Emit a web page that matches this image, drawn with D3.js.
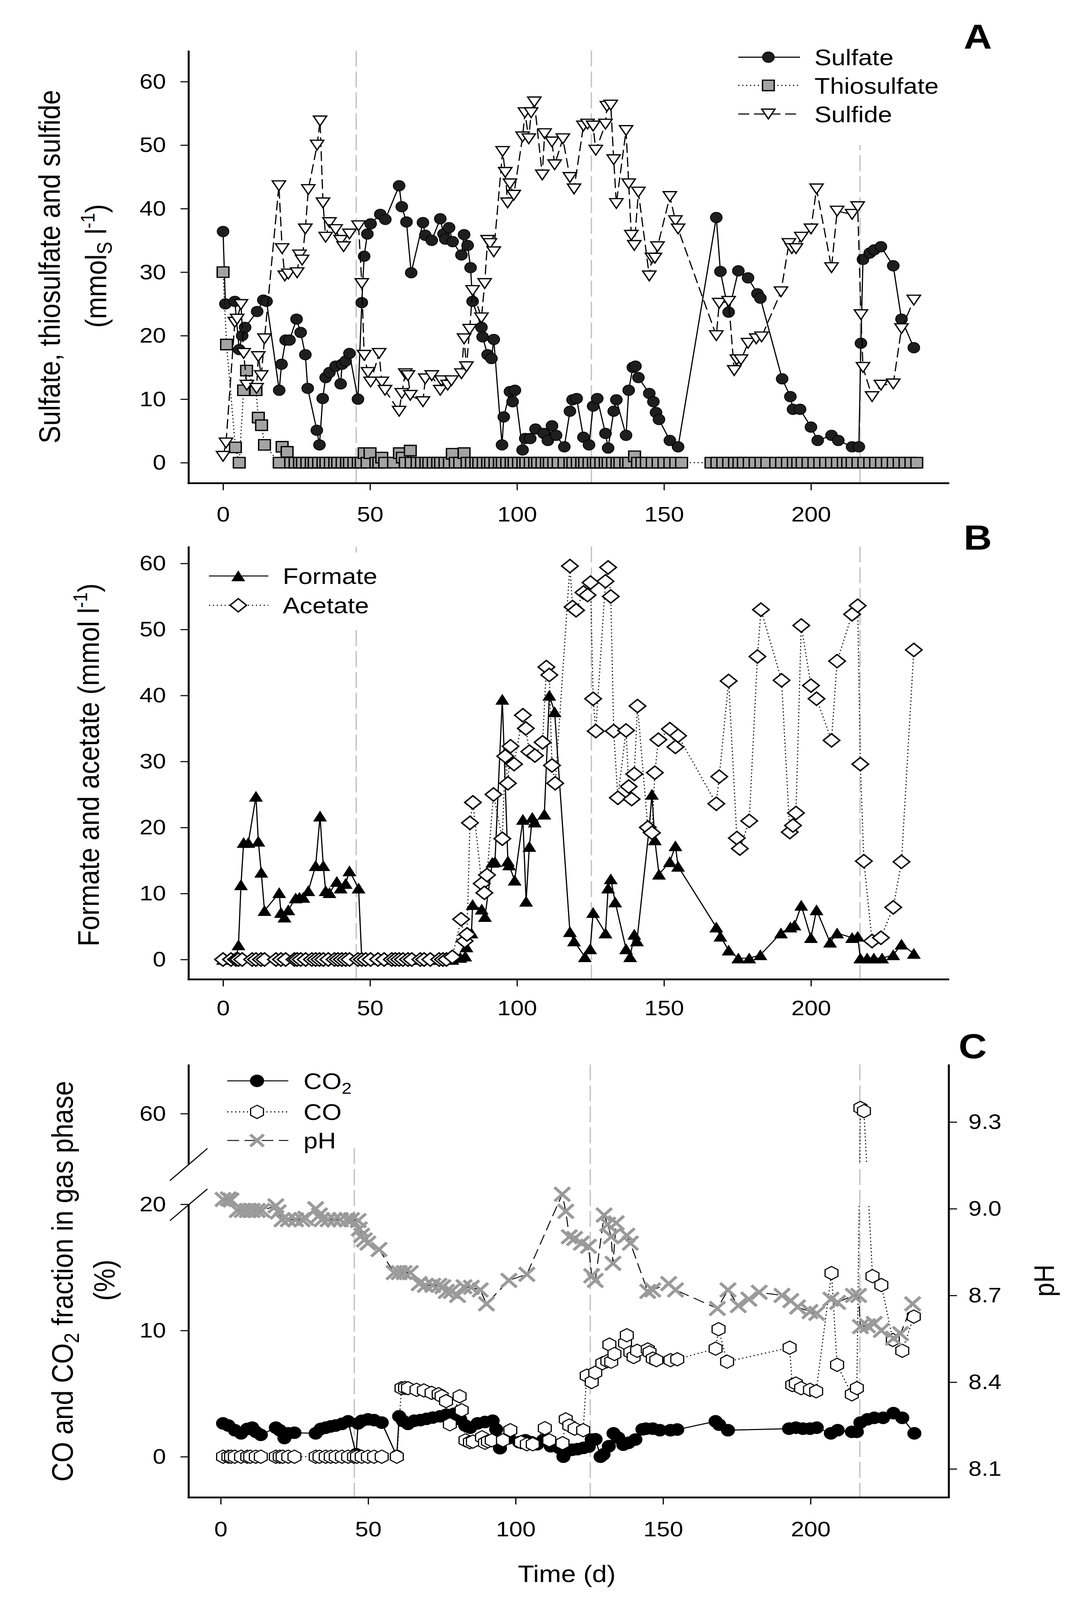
<!DOCTYPE html>
<html><head><meta charset="utf-8">
<script src="https://cdn.jsdelivr.net/npm/d3@7"></script>
<style>html,body{margin:0;padding:0;background:#fff;overflow:hidden}svg{display:block}svg text{font-family:"Liberation Sans",Arial,sans-serif}</style>
</head><body>
<script>
// ---------------- DATA ----------------
const dayTicks = [0, 50, 100, 150, 200];
const concTicks = [0, 10, 20, 30, 40, 50, 60];
const gasLowTicks = [0, 10, 20];
const gasHighTicks = [60];
const phTicks = [8.1, 8.4, 8.7, 9.0, 9.3];
const stageDays = [45.3, 125.3, 216.7];

// Panel A (day, mmol_S/l)
const sulfate = [[0,36.4],[0.8,25.0],[4,25.4],[5.5,17.8],[6.5,20.0],[7.5,21.3],[11.6,23.8],[13.7,25.6],[14.8,25.4],[19.1,11.4],[19.9,15.5],[21.3,19.3],[22.6,19.3],[25,22.6],[26.4,20.5],[28,17.0],[28.8,11.7],[31.9,5.1],[32.8,2.8],[33.9,10.1],[34.9,13.4],[36.2,14.2],[38.3,15.2],[40,12.4],[40.5,15.5],[41.7,16.0],[43,17.2],[45.9,10.0],[47.2,25.2],[48,32.5],[49.1,36.0],[50.2,37.6],[53.5,39.1],[55.2,38.3],[59.9,43.6],[60.8,40.3],[62.4,37.9],[64,29.9],[68,37.8],[68.8,35.8],[71,35.0],[73.9,38.4],[75,36.0],[75.6,35.2],[76.9,37.0],[78.1,34.8],[81.1,32.7],[82,35.9],[83.2,34.2],[84.2,30.7],[84.9,25.4],[87.9,21.3],[88.3,19.8],[90,17.0],[91.3,16.4],[92.1,19.4],[94.9,2.8],[95.5,7.2],[97.6,11.2],[98.5,9.6],[99.3,11.4],[101.9,2.0],[102.8,3.8],[104.5,3.8],[106.3,5.3],[109.1,4.6],[110.5,3.5],[111.9,5.8],[113.3,4.3],[116.1,2.5],[118,8.1],[118.9,9.9],[120.3,10.1],[122.6,4.0],[124.5,2.8],[125.9,8.9],[127.3,10.1],[130.1,4.6],[131,2.3],[132.9,8.1],[133.8,9.9],[137.1,4.3],[138,11.4],[139.4,15.0],[140.3,15.2],[141.3,13.4],[145,10.9],[146.4,9.6],[147.3,7.9],[148.3,6.8],[152,3.5],[154.8,2.5],[167.8,38.6],[169.2,30.1],[172,23.7],[175.3,30.2],[178.6,29.1],[181.8,26.6],[182.8,25.9],[190.2,13.2],[193,10.4],[193.9,8.4],[196.3,8.4],[200,5.6],[202.3,3.5],[207,4.3],[209.3,3.5],[214,2.5],[216.3,2.5],[217,18.8],[217.7,32.0],[220,33.0],[221.5,33.5],[223.8,34.0],[228,31.0],[230.8,22.6],[235,18.1]];
const thiosulfate = [[0,30.0],[1.2,18.6],[4.2,2.4],[5.5,0],[7,11.4],[8,14.5],[11.2,11.4],[12,7.1],[13.1,5.9],[14.1,2.8],[19.1,0],[20.1,2.5],[21.8,1.7],[23,0],[24.5,0],[26,0],[27,0],[28.5,0],[30,0],[31,0],[32.5,0],[34,0],[35,0],[36.5,0],[38,0],[39,0],[40.5,0],[42,0],[43,0],[44.5,0],[46,0],[47,0],[48,1.5],[49,0],[50,1.5],[52,0],[53,0],[54,0.8],[55,0],[58,0],[60,1.5],[61,0.8],[62,0],[63.7,1.9],[64,0],[66,0],[67.5,0],[69,0],[70,0],[71.5,0],[73,0],[74,0],[75.5,0],[77,0],[78,1.4],[79,0],[80.5,0],[82,1.5],[83,0],[84.5,0],[86,0],[87,0],[88.5,0],[90,0],[91,0],[92.5,0],[94,0],[95,0],[96.5,0],[98,0],[99,0],[100.5,0],[102,0],[103,0],[104.5,0],[106,0],[107,0],[108.5,0],[110,0],[111,0],[112.5,0],[114,0],[116,0],[118,0],[119,0],[120.5,0],[122,0],[123,0],[124.5,0],[126,0],[127,0],[128.5,0],[130,0],[131,0],[132.5,0],[134,0],[135,0],[137,0],[138,0],[140,1.0],[141,0],[142.5,0],[144,0],[146,0],[148,0],[150,0],[152,0],[154,0],[156,0],[166,0],[168,0],[170,0],[172,0],[174,0],[175.5,0],[177,0],[179,0],[181,0],[183,0],[185,0],[188,0],[190,0],[192,0],[194,0],[195.5,0],[197,0],[199,0],[201,0],[203,0],[205,0],[207,0],[209,0],[211,0],[212.5,0],[214,0],[216,0],[218,0],[220,0],[222,0],[224,0],[226,0],[228,0],[230,0],[232,0],[234,0],[236,0]];
const sulfide = [[0,1.0],[1,3.1],[4,22.1],[4.8,22.6],[6.1,24.9],[7,17.2],[8.1,12.2],[11.4,11.7],[12,16.7],[13,13.7],[14.1,19.5],[19,43.6],[20.1,33.7],[21,29.4],[22.2,29.7],[25.2,29.9],[26,32.7],[26.9,31.9],[28,36.8],[29,43.0],[32,50.0],[33,53.8],[34,40.9],[34.9,35.5],[36.2,37.8],[38.3,36.7],[40,35.0],[41,34.0],[43,36.0],[46.1,37.3],[47.2,28.2],[48,16.9],[49.3,14.2],[50.2,12.7],[53.1,17.2],[54,12.7],[55.1,11.4],[59.9,8.1],[60.8,10.9],[62,14.0],[62.9,13.7],[63.7,10.6],[68,9.6],[68.8,13.2],[71,13.7],[73.9,11.4],[74.3,12.9],[76.4,12.2],[77.7,12.9],[81.1,14.0],[82,19.5],[82.8,15.1],[83.9,21.0],[84.9,27.1],[87.9,22.8],[89,28.2],[90,35.0],[90.8,34.5],[92.1,33.2],[95.1,49.0],[96,45.7],[96.8,40.9],[97.6,43.9],[98.9,42.1],[101.9,51.3],[102.7,55.1],[104,51.0],[104.8,55.1],[105.9,56.8],[108.6,45.3],[109.4,51.8],[111.9,50.5],[112.8,46.9],[115.6,51.0],[118,44.9],[119.4,43.1],[122.6,53.0],[124,53.3],[125.9,53.0],[126.8,49.2],[130.1,53.3],[130.6,56.1],[131.9,56.3],[132.9,47.7],[133.8,40.8],[137.1,52.3],[138,43.9],[138.9,35.8],[139.9,34.2],[141.3,42.6],[145,29.4],[145.9,32.2],[146.9,32.2],[147.8,34.0],[152,41.9],[153.9,38.1],[154.8,36.8],[167.8,20.0],[168.8,25.1],[172,25.4],[173.9,14.5],[174.8,16.2],[176.2,16.2],[178.6,18.8],[181.4,19.5],[183.2,19.8],[189.8,26.9],[192.5,34.5],[193.5,33.7],[194.9,33.7],[196.7,35.5],[200,36.8],[201.9,43.1],[207,30.7],[208.9,39.6],[214,39.1],[215.9,40.3],[217,23.3],[217.7,15.0],[220.8,10.4],[223.8,12.2],[228,12.4],[230.8,21.1],[235,25.6]];

// Panel B (day, mmol/l)
const formate = [[0,0],[2.7,0],[4.4,0],[5.25,2.2],[6.1,11.3],[7,17.7],[8.6,17.7],[11.2,24.7],[12,17.9],[13,13.2],[14.1,7.4],[19.1,10.1],[19.7,7.1],[20.9,6.4],[22.2,7.5],[24.7,9.3],[26,9.4],[27.3,9.4],[29,10.4],[31.5,14.2],[33,21.7],[34.1,14.2],[34.9,10.4],[36.2,10.1],[38.7,11.8],[40,10.8],[41.7,11.5],[43,13.4],[46.1,10.8],[47.2,0],[48.5,0],[50.2,0],[52.7,0],[54.8,0],[57.4,0],[58.6,0],[59.9,0],[61.2,0],[62.9,0],[64.2,0],[67.1,0],[68.4,0],[70.5,0],[73.5,0],[74.8,0],[76,0],[78,0],[80.7,0.3],[82.4,0.5],[82.8,1.9],[84.5,4.0],[84.9,8.3],[88,7.6],[89.1,6.5],[91.6,14.7],[92.5,14.8],[95,39.4],[96.9,14.9],[97.3,14.3],[99.2,12.0],[102,21.2],[103.1,8.8],[104.2,17.1],[105.2,21.5],[106,20.8],[109.3,22.0],[111,40.0],[112.8,37.5],[118,4.2],[119.4,2.8],[123.1,0.4],[124.9,1.6],[125.9,7.1],[130.1,4.0],[131,10.8],[131.9,12.2],[133.4,8.7],[137.1,1.6],[138.5,0.4],[139.9,3.8],[140.8,2.8],[145,20.0],[145.9,25.0],[146.9,18.1],[148.3,12.9],[152,14.8],[153.9,17.2],[154.8,14.1],[167.8,4.9],[169.2,3.5],[172,1.4],[175.3,0.2],[179,0.2],[182.8,0.7],[189.8,4.0],[193,4.9],[194.4,5.2],[196.7,8.2],[200,3.3],[201.9,7.5],[206.5,2.6],[208.9,4.0],[214,3.3],[215.9,3.5],[216.8,0.2],[219.1,0.2],[221.4,0.2],[224.2,0.2],[228,0.7],[230.8,2.3],[235,0.9]];
const acetate = [[0,0],[2.7,0],[4.4,0],[5.2,0],[6.5,0],[9.9,0],[11.2,0],[12.9,0],[14.1,0],[18,0],[19.7,0],[21.3,0],[24.3,0],[25.2,0],[26.4,0],[28.1,0],[30.2,0],[31.5,0],[32.8,0],[34.1,0],[35.8,0],[37.9,0],[39.1,0],[40.4,0],[41.7,0],[43,0],[45.9,0],[47.2,0],[48.5,0],[50.2,0],[52.7,0],[54.8,0],[57.4,0],[58.6,0],[59.9,0],[61.2,0],[62.9,0],[64.2,0],[67.1,0],[68.4,0],[70.5,0],[73.5,0],[74.8,0],[76,0],[78,0.4],[81,6.1],[82.2,2.8],[83,3.8],[84,20.7],[85,23.8],[88,11.5],[88.9,10.1],[89.8,12.8],[92,25.0],[95,18.3],[96,30.8],[96.9,26.7],[97.8,32.3],[99,29.6],[102,37.0],[103,35.0],[104.2,31.5],[106.1,30.9],[108.7,32.9],[110,44.3],[111,43.1],[111.9,29.4],[113,26.7],[118,59.6],[118.9,53.4],[120.1,52.9],[122.6,55.6],[124,55.2],[125,57.1],[125.9,39.5],[126.8,34.6],[130.1,57.3],[131,59.4],[131.9,55.0],[132.9,34.6],[134.3,24.5],[137.1,34.7],[138,26.2],[139,24.3],[139.9,28.1],[141,38.4],[144.5,20.0],[145.9,19.2],[146.9,28.3],[148.1,33.3],[152,34.9],[153.9,32.2],[154.8,33.9],[167.8,23.6],[168.8,27.7],[172,42.2],[174.8,18.4],[175.8,16.8],[179,21.0],[181.8,45.9],[183,53.0],[190,42.3],[192.8,19.3],[193.9,20.3],[194.9,22.2],[196.7,50.6],[200,41.5],[201.9,39.5],[207,33.2],[208.9,45.2],[214,52.3],[215.9,53.6],[216.8,29.6],[218,14.9],[220.8,2.8],[223.8,3.3],[228,7.9],[230.8,14.8],[235,46.9]];

// Panel C (day, % gas phase) and (day, pH)
const co2 = [[0.8,2.64],[2.6,2.47],[4.8,2.1],[6.9,1.85],[9,2.2],[10.7,2.3],[11.9,1.97],[13.6,1.73],[18.7,2.3],[20,2.1],[21.6,1.48],[22.9,1.85],[25,1.9],[32.2,1.85],[33.9,2.2],[35.6,2.3],[37.3,2.4],[39,2.47],[41.1,2.6],[43.2,2.8],[45.9,0.2],[46.6,2.64],[47.8,2.84],[49.9,2.96],[52,2.9],[54.6,2.7],[59.7,0.05],[60.5,3.2],[61.8,2.84],[63.5,2.6],[65.6,2.85],[67.7,2.9],[69.8,3.0],[71.9,3.1],[74.4,3.2],[76.5,3.33],[79.1,3.4],[81.2,2.96],[82.9,2.47],[84.6,2.3],[87.1,2.64],[89.6,2.75],[92.2,2.85],[93.4,2.17],[94.7,0.67],[95.7,1.3],[97.7,1.46],[101.2,1.15],[103.3,1.3],[105.3,1.15],[107.3,0.99],[109.3,1.3],[111.9,0.83],[114.9,0.67],[116.2,0.0],[117.5,0.45],[119.2,0.55],[121,0.6],[123,0.7],[124.8,0.8],[125.8,1.36],[127.1,1.38],[128.8,0.0],[129.8,0.19],[131.6,0.83],[133.2,1.85],[134.8,1.5],[136.5,0.95],[138.3,1.1],[140.6,1.36],[143,2.17],[144.2,2.22],[146.5,2.22],[148.9,2.1],[152.5,2.1],[154.8,2.15],[167.8,2.8],[169,2.54],[172,2.1],[192.7,2.22],[195,2.3],[197.4,2.22],[199.8,2.22],[202.1,2.3],[206.9,1.85],[209.2,2.1],[214,1.97],[215.7,1.97],[216.9,2.7],[219.3,2.96],[221.6,3.08],[224.6,3.08],[228.1,3.45],[231.1,3.08],[235.2,1.85]];
const co = [[0.8,0],[2.6,0],[3.5,0],[4.8,0],[6.9,0],[9,0],[10,0],[11.9,0],[13.6,0],[18.7,0],[20,0],[21,0],[22.9,0],[25,0],[32.2,0],[33.5,0],[35.6,0],[37.3,0],[39,0],[41.1,0],[43.2,0],[45.2,0],[46.2,0],[47.8,0],[49.9,0],[52,0],[54.6,0],[59.7,0],[61.3,5.43],[62.5,5.45],[63.5,5.43],[66.4,5.3],[68.9,5.25],[71.5,5.06],[73.9,4.95],[74.9,4.79],[76.4,4.4],[77.7,2.57],[81,4.79],[81.7,3.68],[83,1.3],[84.5,1.15],[85.5,1.2],[88.6,1.54],[89.6,1.1],[90.6,1.22],[91.9,1.3],[95.7,1.3],[98.2,2.1],[101.8,1.15],[103.8,0.99],[105.8,0.99],[109.9,2.26],[111.4,1.3],[115.9,1.07],[117,2.96],[118.2,2.47],[120,2.22],[122.9,2.1],[124.1,6.42],[125.8,5.92],[127,6.66],[129.4,7.4],[131.1,7.57],[131.8,8.88],[132.4,7.53],[133.5,8.14],[137.1,9.0],[137.7,9.62],[138.9,8.27],[140,7.9],[141.2,8.39],[144.8,8.5],[145.4,8.27],[146.5,7.77],[147.7,7.65],[152.5,7.65],[154.8,7.72],[167.8,8.56],[168.8,10.1],[171.7,7.53],[192.9,8.64],[193.8,5.68],[195,5.8],[196.8,5.43],[199.8,5.3],[201.9,5.18],[207.1,14.55],[209,7.28],[214,4.94],[215.7,5.43],[216.9,60.45],[218.1,60.2],[221,14.3],[224,13.6],[227.9,9.25],[231.1,8.39],[235,11.1]];
const ph = [[0.8,9.032],[2.6,9.034],[3.5,9.03],[5.6,8.994],[7.3,8.994],[9,8.994],[10.7,8.994],[12.4,8.994],[14,8.994],[18.7,9.01],[19.5,8.989],[20.8,8.962],[22.9,8.962],[25.4,8.962],[27.6,8.962],[28.8,8.967],[32.2,9.0],[33.5,8.978],[34.3,8.962],[36.4,8.962],[38.5,8.962],[40.6,8.962],[42.8,8.962],[44.4,8.962],[46.6,8.959],[47,8.93],[47.8,8.908],[48.7,8.892],[49.9,8.881],[53.7,8.859],[58.8,8.779],[60.5,8.779],[62.2,8.779],[64.3,8.779],[67.3,8.741],[69.4,8.735],[71.9,8.735],[74,8.735],[75.3,8.73],[76.5,8.714],[78.2,8.714],[80.3,8.7],[82.5,8.73],[85,8.728],[88,8.719],[90.1,8.671],[97.7,8.752],[103.8,8.773],[115.8,9.05],[117,8.991],[118.2,8.903],[120,8.897],[122.3,8.881],[124.7,8.87],[125.8,8.768],[127,8.752],[130,8.978],[131.2,8.946],[132.4,8.903],[133,8.811],[134.1,8.951],[137.7,8.908],[138.9,8.881],[144.8,8.714],[146.5,8.719],[151.9,8.741],[154.2,8.719],[168.4,8.655],[172,8.719],[175.5,8.665],[179.1,8.687],[182.6,8.711],[190.3,8.7],[193.3,8.682],[195.6,8.66],[199.8,8.644],[202.1,8.638],[206.9,8.687],[209.2,8.676],[214.5,8.7],[216.3,8.7],[216.9,8.592],[219.3,8.595],[221.6,8.603],[224,8.579],[228.1,8.552],[230.5,8.568],[234.6,8.671]];

// ---------------- DRAWING ----------------
const W = 2775, H = 4589;
const vw = window.innerWidth || W, vh = window.innerHeight || H;
const svg = d3.select("body").append("svg").attr("width", vw).attr("height", vh)
  .attr("viewBox", `0 0 ${W} ${H}`).attr("preserveAspectRatio", "none").style("background", "#fff");
svg.append("rect").attr("width", W).attr("height", H).attr("fill", "#fff");

const FONT_TICK = 61, FONT_TITLE = 76, FONT_LEG = 65;

const P = {
  circle: r => `M${-r},0A${r},${r} 0 1,0 ${r},0A${r},${r} 0 1,0 ${-r},0Z`,
  square: s => `M${-s/2},${-s/2}H${s/2}V${s/2}H${-s/2}Z`,
  triDown: (w, h) => `M${-w/2},${-h/2}L${w/2},${-h/2}L0,${h/2}Z`,
  triUp: (w, h) => `M${-w/2},${h/2}L${w/2},${h/2}L0,${-h/2}Z`,
  diamond: (w, h) => `M0,${-h/2}L${w/2},0L0,${h/2}L${-w/2},0Z`,
  hexagon: r => d3.range(6).map(i => { const a = (-90 + 60 * i) * Math.PI / 180; return (i ? "L" : "M") + (r * Math.cos(a)).toFixed(2) + "," + (r * Math.sin(a)).toFixed(2); }).join("") + "Z",
  cross: s => `M${-s/2},${-s/2}L${s/2},${s/2}M${s/2},${-s/2}L${-s/2},${s/2}`
};

function axisStyle(g) {
  g.select(".domain").remove();
  g.selectAll(".tick line").attr("stroke", "#000").attr("stroke-width", 3);
  g.selectAll(".tick text").attr("font-size", FONT_TICK).attr("fill", "#000")
    .style("font-family", '"Liberation Sans",Arial,sans-serif');
}

function drawSeries(g, data, x, y, opt) {
  const line = d3.line().x(d => x(d[0])).y(d => y(d[1]));
  const lg = g.append("g");
  if (opt.clip) lg.attr("clip-path", `url(#${opt.clip})`);
  lg.append("path").attr("d", line(data)).attr("fill", "none")
    .attr("stroke", "#000").attr("stroke-width", opt.lw || 3)
    .attr("stroke-dasharray", opt.dash || null).attr("stroke-linecap", "butt");
  g.append("g").selectAll("path").data(data).join("path")
    .attr("transform", d => `translate(${x(d[0])},${y(d[1])})`)
    .attr("d", opt.sym)
    .attr("fill", opt.fill).attr("stroke", opt.stroke || "#000")
    .attr("stroke-width", opt.sw || 3.5)
    .attr("stroke-linecap", "square");
}

function legendRow(g, x0, x1, xm, yRow, textX, label, opt, sub) {
  g.append("line").attr("x1", x0).attr("x2", x1).attr("y1", yRow).attr("y2", yRow)
    .attr("stroke", "#000").attr("stroke-width", opt.lw || 3).attr("stroke-dasharray", opt.dash || null);
  g.append("path").attr("transform", `translate(${xm},${yRow})`).attr("d", opt.sym)
    .attr("fill", opt.fill).attr("stroke", opt.stroke || "#000").attr("stroke-width", opt.sw || 3.5);
  const t = g.append("text").attr("x", textX).attr("y", yRow).attr("dy", "0.36em")
    .attr("font-size", FONT_LEG).text(label);
  if (sub) t.append("tspan").attr("font-size", 46).attr("dy", 14).text(sub);
}

function vLines(g, x, top, bottom) {
  g.append("g").selectAll("line").data(stageDays).join("line")
    .attr("x1", d => x(d)).attr("x2", d => x(d)).attr("y1", top).attr("y2", bottom)
    .attr("stroke", "#c4c4c4").attr("stroke-width", 3.5).attr("stroke-dasharray", "46,14");
}

function frame(g, left, right, top, bottom) {
  g.append("line").attr("x1", left).attr("x2", left).attr("y1", top).attr("y2", bottom + 2.5)
    .attr("stroke", "#000").attr("stroke-width", 5);
  g.append("line").attr("x1", left - 2.5).attr("x2", right).attr("y1", bottom).attr("y2", bottom)
    .attr("stroke", "#000").attr("stroke-width", 5);
}

function rotText(g, x, y, size) {
  return g.append("text").attr("transform", `translate(${x},${y}) rotate(-90)`)
    .attr("text-anchor", "middle").attr("font-size", size);
}

const symCircleA = P.circle(15), symSquare = P.square(30), symTriDown = P.triDown(34, 28);
const symTriUp = P.triUp(32, 28), symDiamond = P.diamond(42, 38);
const symCircleC = P.circle(17), symHex = P.hexagon(19), symCross = P.cross(34);

const optSulfate = {sym: symCircleA, fill: "#1e1e1e", sw: 2};
const optThio = {sym: symSquare, fill: "#a3a3a3", dash: "3,7", sw: 3.5};
const optSulfide = {sym: symTriDown, fill: "#fff", dash: "28,12", sw: 3.5};
const optFormate = {sym: symTriUp, fill: "#000", sw: 2};
const optAcetate = {sym: symDiamond, fill: "#fff", dash: "3,7", sw: 4};
const optCO2 = {sym: symCircleC, fill: "#000", sw: 2};
const optCO = {sym: symHex, fill: "#fff", dash: "3,7", sw: 3};
const optPH = {sym: symCross, fill: "none", stroke: "#9a9a9a", sw: 8, dash: "30,14", lw: 2.5};

// ============ Panel A ============
{
  const L = 483, R = 2430, T = 145, B = 1386;
  const x = d3.scaleLinear().domain([0, 200]).range([571, 2076]);
  const y = d3.scaleLinear().domain([0, 60]).range([1327, 234]);
  const g = svg.append("g");
  vLines(g, x, T, B);
  drawSeries(g, sulfate, x, y, optSulfate);
  drawSeries(g, thiosulfate, x, y, optThio);
  drawSeries(g, sulfide, x, y, optSulfide);
  frame(g, L, R, T, B);
  g.append("g").attr("transform", `translate(${L},0)`)
    .call(d3.axisLeft(y).tickValues(concTicks).tickSize(21).tickPadding(37)).call(axisStyle);
  g.append("g").attr("transform", `translate(0,${B})`)
    .call(d3.axisBottom(x).tickValues(dayTicks).tickSize(20).tickPadding(46)).call(axisStyle);
  rotText(g, 153, 765, FONT_TITLE).text("Sulfate, thiosulfate and sulfide");
  const t2 = rotText(g, 272, 763, FONT_TITLE);
  t2.append("tspan").text("(mmol");
  t2.append("tspan").attr("font-size", 54).attr("dy", 14).text("S");
  t2.append("tspan").attr("dy", -14).text(" l");
  t2.append("tspan").attr("font-size", 50).attr("dy", -30).text("-1");
  t2.append("tspan").attr("dy", 30).text(")");
  const lg = g.append("g");
  lg.append("rect").attr("x", 1862).attr("y", 92).attr("width", 600).attr("height", 324).attr("fill", "#fff");
  legendRow(lg, 1890, 2048, 1967, 164, 2085, "Sulfate", optSulfate);
  legendRow(lg, 1890, 2048, 1967, 245, 2085, "Thiosulfate", optThio);
  legendRow(lg, 1890, 2048, 1967, 327, 2085, "Sulfide", optSulfide);
  g.append("text").attr("x", 2503).attr("y", 140).attr("text-anchor", "middle")
    .attr("font-size", 100).attr("font-weight", "bold").text("A");
}

// ============ Panel B ============
{
  const L = 483, R = 2430, T = 1567, B = 2809;
  const x = d3.scaleLinear().domain([0, 200]).range([571, 2076]);
  const y = d3.scaleLinear().domain([0, 60]).range([2752, 1616]);
  const g = svg.append("g");
  vLines(g, x, T, B);
  drawSeries(g, formate, x, y, optFormate);
  drawSeries(g, acetate, x, y, optAcetate);
  frame(g, L, R, T, B);
  g.append("g").attr("transform", `translate(${L},0)`)
    .call(d3.axisLeft(y).tickValues(concTicks).tickSize(21).tickPadding(37)).call(axisStyle);
  g.append("g").attr("transform", `translate(0,${B})`)
    .call(d3.axisBottom(x).tickValues(dayTicks).tickSize(20).tickPadding(40)).call(axisStyle);
  const t = rotText(g, 253, 2194, FONT_TITLE);
  t.append("tspan").text("Formate and acetate (mmol l");
  t.append("tspan").attr("font-size", 50).attr("dy", -30).text("-1");
  t.append("tspan").attr("dy", 30).text(")");
  const lg = g.append("g");
  lg.append("rect").attr("x", 515).attr("y", 1585).attr("width", 560).attr("height", 212).attr("fill", "#fff");
  legendRow(lg, 535, 687, 610, 1652, 724, "Formate", optFormate);
  legendRow(lg, 535, 687, 610, 1736, 724, "Acetate", optAcetate);
  g.append("text").attr("x", 2503).attr("y", 1576).attr("text-anchor", "middle")
    .attr("font-size", 100).attr("font-weight", "bold").text("B");
}

// ============ Panel C ============
{
  const L = 483, R = 2429, T = 3053, B = 4295;
  const breakTop = 3340, breakBot = 3455;
  const x = d3.scaleLinear().domain([0, 200]).range([565, 2075]);
  const yLow = d3.scaleLinear().domain([0, 20]).range([4178, 3454]);
  const yHigh = d3.scaleLinear().domain([56, 64]).range([3338.8, 3049.2]);
  const yGas = v => v > 40 ? yHigh(v) : yLow(v);
  const yPH = d3.scaleLinear().domain([8.1, 9.3]).range([4213, 3218]);
  const g = svg.append("g");
  const defs = svg.append("defs");
  const cp = defs.append("clipPath").attr("id", "brk");
  cp.append("rect").attr("x", L).attr("y", T - 40).attr("width", R - L).attr("height", breakTop - 6 - (T - 40));
  cp.append("rect").attr("x", L).attr("y", breakBot + 4).attr("width", R - L).attr("height", B - breakBot);
  vLines(g, x, T, B);
  drawSeries(g, co2, x, yGas, optCO2);
  drawSeries(g, co, x, yGas, Object.assign({clip: "brk"}, optCO));
  drawSeries(g, ph, x, yPH, optPH);
  g.append("line").attr("x1", L).attr("x2", L).attr("y1", T).attr("y2", breakTop)
    .attr("stroke", "#000").attr("stroke-width", 5);
  g.append("line").attr("x1", L).attr("x2", L).attr("y1", breakBot).attr("y2", B + 2.5)
    .attr("stroke", "#000").attr("stroke-width", 5);
  g.append("line").attr("x1", L - 2.5).attr("x2", R + 2.5).attr("y1", B).attr("y2", B)
    .attr("stroke", "#000").attr("stroke-width", 5);
  g.append("line").attr("x1", R).attr("x2", R).attr("y1", T).attr("y2", B)
    .attr("stroke", "#000").attr("stroke-width", 5);
  [[435, 3386, 531, 3294], [435, 3501, 531, 3410]].forEach(s =>
    g.append("line").attr("x1", s[0]).attr("y1", s[1]).attr("x2", s[2]).attr("y2", s[3])
      .attr("stroke", "#000").attr("stroke-width", 3));
  g.append("g").attr("transform", `translate(${L},0)`)
    .call(d3.axisLeft(yLow).tickValues(gasLowTicks).tickSize(21).tickPadding(37)).call(axisStyle);
  g.append("g").attr("transform", `translate(${L},0)`)
    .call(d3.axisLeft(yHigh).tickValues(gasHighTicks).tickSize(21).tickPadding(37)).call(axisStyle);
  g.append("g").attr("transform", `translate(${R},0)`)
    .call(d3.axisRight(yPH).tickValues(phTicks).tickSize(21).tickPadding(29).tickFormat(d3.format(".1f"))).call(axisStyle);
  g.append("g").attr("transform", `translate(0,${B})`)
    .call(d3.axisBottom(x).tickValues(dayTicks).tickSize(20).tickPadding(48)).call(axisStyle);
  const t = rotText(g, 186, 3675, FONT_TITLE);
  t.append("tspan").text("CO and CO");
  t.append("tspan").attr("font-size", 54).attr("dy", 16).text("2");
  t.append("tspan").attr("dy", -16).text(" fraction in gas phase");
  rotText(g, 293, 3672, FONT_TITLE).text("(%)");
  rotText(g, 2698, 3673, 72).text("pH");
  g.append("text").attr("x", 1451).attr("y", 4537).attr("text-anchor", "middle")
    .attr("font-size", 68).text("Time (d)");
  const lg = g.append("g");
  lg.append("rect").attr("x", 560).attr("y", 3045).attr("width", 420).attr("height", 235).attr("fill", "#fff");
  legendRow(lg, 582, 738, 658, 3100, 777, "CO", optCO2, "2");
  legendRow(lg, 582, 738, 658, 3189, 777, "CO", optCO);
  legendRow(lg, 582, 738, 658, 3271, 777, "pH", optPH);
  g.append("text").attr("x", 2490).attr("y", 3035).attr("text-anchor", "middle")
    .attr("font-size", 100).attr("font-weight", "bold").text("C");
}
</script>
</body></html>
